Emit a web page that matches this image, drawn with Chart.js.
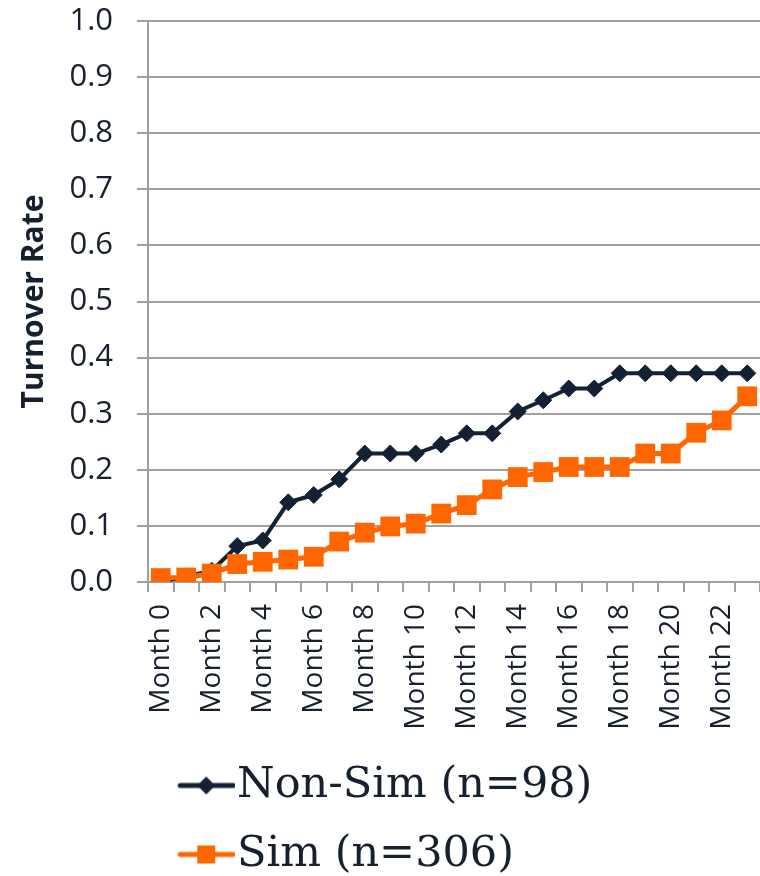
<!DOCTYPE html>
<html lang="en">
<head>
  <meta charset="utf-8" />
  <title>Turnover Rate</title>
  <style>
html, body { margin: 0; padding: 0; background: #fff; overflow: hidden; }
#chartContainer {
  width: 760px;
  height: 886px;
}
  </style>
</head>
<body>
  <div id="chartContainer">
    <canvas id="myChart"></canvas>
  </div>
  <script src="https://cdn.jsdelivr.net/npm/chart.js"></script>
  <script>

const months = ['Month 0', 'Month 1', 'Month 2', 'Month 3', 'Month 4', 'Month 5',
  'Month 6', 'Month 7', 'Month 8', 'Month 9', 'Month 10', 'Month 11',
  'Month 12', 'Month 13', 'Month 14', 'Month 15', 'Month 16', 'Month 17',
  'Month 18', 'Month 19', 'Month 20', 'Month 21', 'Month 22', 'Month 23'];
const nonSim = [0.000, 0.010, 0.020, 0.064, 0.074, 0.142, 0.155, 0.183, 0.229, 0.229, 0.229, 0.245,
  0.265, 0.265, 0.304, 0.324, 0.345, 0.345, 0.372, 0.372, 0.372, 0.372, 0.372, 0.372];
const sim = [0.007, 0.008, 0.015, 0.032, 0.036, 0.040, 0.045, 0.072, 0.088, 0.099, 0.104, 0.122,
  0.137, 0.165, 0.187, 0.196, 0.205, 0.205, 0.205, 0.229, 0.229, 0.266, 0.288, 0.331];
const yTickLabels = ['0.0', '0.1', '0.2', '0.3', '0.4', '0.5', '0.6', '0.7', '0.8', '0.9', '1.0'];
const seriesNames = ['Non-Sim (n=98)', 'Sim (n=306)'];

const NAVY = '#142034';
const ORANGE = '#ff6600';
const GRID = '#a0a0a0';
const TEXT = '#17202f';

// legend sample: line with the marker in the middle
function legendMark(color, shape) {
  const c = document.createElement('canvas');
  c.width = 81;
  c.height = 24;
  const g = c.getContext('2d');
  g.strokeStyle = color;
  g.lineWidth = 5;
  g.lineCap = 'round';
  g.beginPath();
  g.moveTo(26, 12);
  g.lineTo(79, 12);
  g.stroke();
  g.fillStyle = color;
  if (shape === 'diamond') {
    g.beginPath();
    g.moveTo(52, 3); g.lineTo(61, 12); g.lineTo(52, 21); g.lineTo(43, 12);
    g.closePath();
    g.fill();
  } else {
    g.fillRect(43, 3, 18, 18);
  }
  return c;
}
const marks = [legendMark(NAVY, 'diamond'), legendMark(ORANGE, 'square')];

const ctx = document.getElementById('myChart');
const chart = new Chart(ctx, {
  type: 'line',
  data: {
    labels: months,
    datasets: [{
      label: seriesNames[0],
      data: nonSim,
      order: 1,
      borderColor: NAVY,
      backgroundColor: NAVY,
      borderWidth: 4,
      pointStyle: 'rectRot',
      pointRadius: 8.5,
      pointBorderWidth: 1,
      pointBackgroundColor: NAVY,
      pointBorderColor: NAVY,
      tension: 0,
      fill: false
    }, {
      label: seriesNames[1],
      data: sim,
      order: 0,
      borderColor: ORANGE,
      backgroundColor: ORANGE,
      borderWidth: 5,
      pointStyle: 'rect',
      pointRadius: 14,
      pointBorderWidth: 0,
      pointBackgroundColor: ORANGE,
      pointBorderColor: ORANGE,
      tension: 0,
      fill: false
    }]
  },
  options: {
    responsive: true,
    maintainAspectRatio: false,
    animation: false,
    layout: {
      autoPadding: false, // otherwise the big markers push the right edge in
      padding: { left: 10, top: 21, right: 0, bottom: 0 }
    },
    plugins: {
      tooltip: { enabled: false },
      legend: {
        position: 'bottom',
        align: 'start',
        fullSize: false,
        labels: {
          usePointStyle: true,
          pointStyleWidth: 41.5,
          padding: 26,
          color: TEXT,
          font: { family: 'DejaVu Serif', size: 43 },
          generateLabels: function (c) {
            return [0, 1].map(function (i) {
              return {
                text: seriesNames[i],
                datasetIndex: i,
                pointStyle: marks[i],
                fillStyle: 'transparent',
                strokeStyle: 'transparent',
                lineWidth: 0,
                fontColor: TEXT,
                hidden: false
              };
            });
          }
        }
      }
    },
    scales: {
      x: {
        offset: true,
        grid: {
          offset: true,
          drawOnChartArea: false,
          drawTicks: true,
          tickLength: 10,
          color: GRID,
          lineWidth: 2
        },
        border: { color: GRID, width: 2 },
        ticks: {
          autoSkip: false,
          minRotation: 90,
          maxRotation: 90,
          padding: 12,
          color: TEXT,
          font: { family: 'Open Sans', size: 28 },
          callback: function (value, index) {
            return index % 2 === 0 ? months[index] : '';
          }
        },
        afterFit: function (scale) {
          scale.height = 156;
          scale.paddingLeft = 0;
          scale.paddingRight = 0;
        }
      },
      y: {
        min: 0,
        max: 1,
        grid: {
          color: GRID,
          lineWidth: 2,
          tickLength: 11
        },
        border: { color: GRID, width: 2 },
        ticks: {
          stepSize: 0.1,
          padding: 24,
          color: TEXT,
          font: { family: 'Open Sans', size: 31 },
          callback: function (value, index) {
            return yTickLabels[index];
          }
        },
        title: {
          display: true,
          text: 'Turnover Rate',
          color: TEXT,
          padding: { top: 6, bottom: 0 },
          font: { family: 'Open Sans', size: 30, weight: 'bold' }
        },
        afterFit: function (scale) {
          scale.width = 138;
          scale.paddingTop = 0;
          scale.paddingBottom = 0;
        }
      }
    }
  }
});

  </script>
</body>
</html>
